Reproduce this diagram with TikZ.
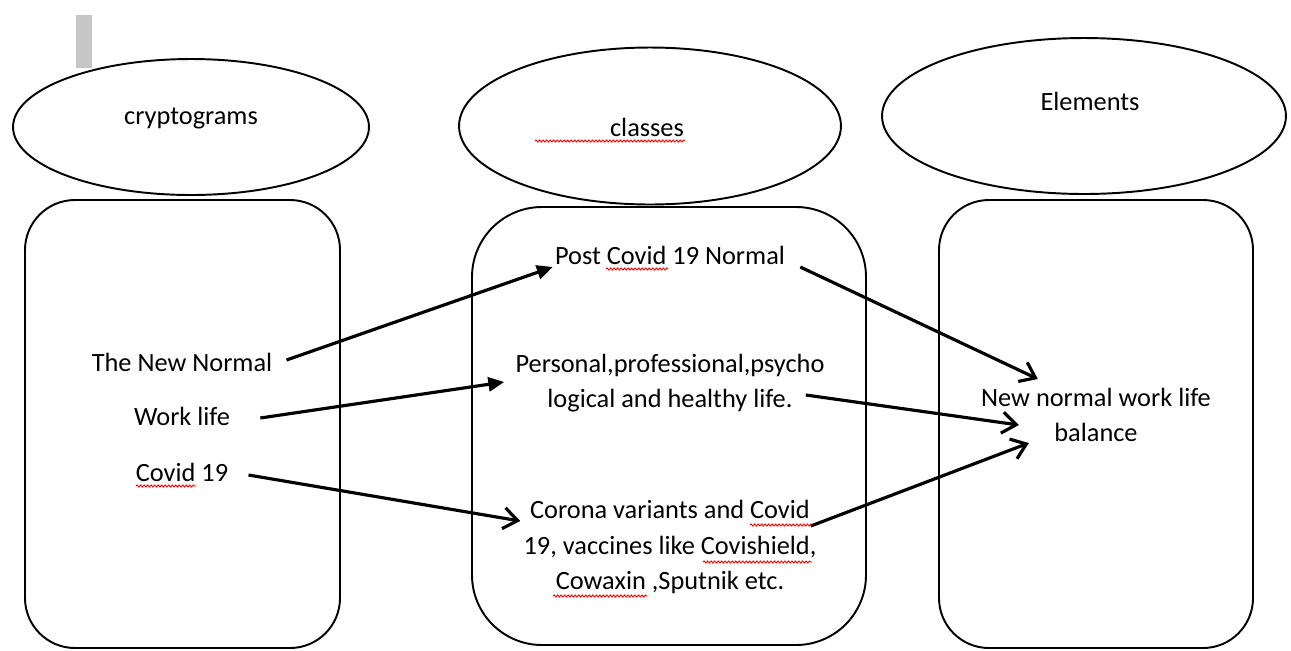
\documentclass[tikz,border=0pt]{standalone}
\usepackage{fontspec}
\setmainfont{Carlito}
\usepackage{tikz}
\usetikzlibrary{arrows.meta,shapes.geometric,decorations.pathmorphing}

\begin{document}
\begin{tikzpicture}[x=0.02cm,y=-0.02cm,
	oval/.style={draw,ellipse,line width=1.1pt,inner sep=0pt},
	panel/.style={draw,line width=1.1pt},
	txt/.style={font=\fontsize{15pt}{20pt}\selectfont,align=center,inner sep=0pt},
	link/.style={line width=1.8pt,-{Straight Barb[length=8pt,width=12pt]}},
	push/.style={line width=1.8pt,-{Triangle[length=9pt,width=8pt]}},
	squiggle/.style={red,line width=0.5pt,decorate,decoration={snake,amplitude=0.6pt,segment length=2pt}}]
	\useasboundingbox (0,0) rectangle (1291,650);
	\clip (0,0) rectangle (1291,650);
	\fill[gray!45] (76,15) rectangle (92,68);
	% headings
	\node[oval,minimum width=7.12cm,minimum height=2.72cm] (cryptoval) at (191,127) {};
	\node[oval,minimum width=7.64cm,minimum height=3.14cm] (classoval) at (650,126) {};
	\node[oval,minimum width=8.08cm,minimum height=3.12cm] (elemoval) at (1084,116) {};
	\node[txt] (cryptlabel) at (191,118) {cryptograms};
	\node[txt] (classlabel) at (647,127) {classes};
	\node[txt] (elemlabel) at (1090,101) {Elements};
	% columns
	\draw[panel,rounded corners=1cm] (25,200) rectangle (340,648);
	\draw[panel,rounded corners=1.4cm] (472,207) rectangle (866,645);
	\draw[panel,rounded corners=1cm] (939,200) rectangle (1253,648);
	\node[txt] (newnormal) at (182,362) {The New Normal};
	\node[txt] (worklife) at (182,416) {Work life};
	\node[txt] (covid) at (182,472) {Covid 19};
	\node[txt] (postcovid) at (670,255) {Post Covid 19 Normal};
	\node[txt] (personal) at (670,383) {Personal,professional,psycho\\logical and healthy life.};
	\node[txt] (corona) at (670,547) {Corona variants and Covid\\19, vaccines like Covishield,\\Cowaxin ,Sputnik etc.};
	\node[txt] (balance) at (1096,415) {New normal work life\\balance};
	% arrows
	\draw[push] ([shift={(14,-2)}]newnormal.east) -- ([shift={(-2,12)}]postcovid.west);
	\draw[push] ([shift={(30,2)}]worklife.east) -- ([shift={(-11,-1)}]personal.west);
	\draw[link] ([shift={(20,3)}]covid.east) -- ([shift={(-3,-26)}]corona.west);
	\draw[link] ([shift={(15,12)}]postcovid.east) -- ([shift={(57,-36)}]balance.west);
	\draw[link] ([shift={(-19,12)}]personal.east) -- ([shift={(38,10)}]balance.west);
	\draw[link] ([shift={(-6,-21)}]corona.east) -- ([shift={(48,28)}]balance.west);
	% spelling marks
	\draw[squiggle] (535,141) -- (685,141);
	\draw[squiggle] (606,269) -- (668,269);
	\draw[squiggle] (136,486) -- (196,486);
	\draw[squiggle] (750,525) -- (812,525);
	\draw[squiggle] (703,562) -- (812,562);
	\draw[squiggle] (553,596) -- (647,596);
\end{tikzpicture}
\end{document}
